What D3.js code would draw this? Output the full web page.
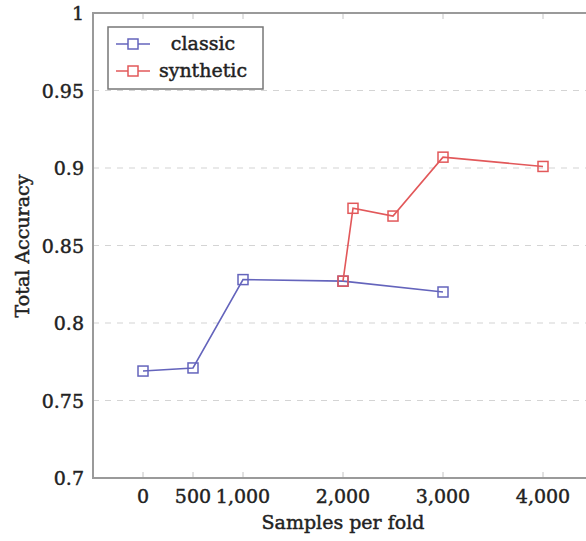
<!DOCTYPE html>
<html>
<head>
<meta charset="utf-8">
<script src="https://cdn.jsdelivr.net/npm/d3@7"></script>
<style>
  body { margin: 0; background: #fff; }
  text { font-family: "DejaVu Serif", "Liberation Serif", serif; fill: #222; stroke: #222; stroke-width: 0.45px; }
</style>
</head>
<body>
<div id="chart"></div>
<script>
let w = 586;
let h = 541;

// data
let classicX = [0, 500, 1000, 2000, 3000];
let classicY = [0.769, 0.771, 0.828, 0.827, 0.820];
let synthX   = [2000, 2100, 2500, 3000, 4000];
let synthY   = [0.827, 0.874, 0.869, 0.907, 0.901];
let xTicks   = [0, 500, 1000, 2000, 3000, 4000];
let yTicks   = [0.7, 0.75, 0.8, 0.85, 0.9, 0.95, 1];
let seriesNames = ['classic', 'synthetic'];

let colors = ['#6464bc', '#e2585a'];

let svg = d3.select('#chart').append('svg').attr('width', w).attr('height', h)

let x = d3.scaleLinear().domain([-500, 4500]).range([93, 593]);
let y = d3.scaleLinear().domain([0.7, 1]).range([478, 13]);

// grid
svg.append('g').selectAll('line').data(yTicks.slice(1, -1)).enter().append('line')
    .attr('x1', x(-500)).attr('x2', x(4500))
    .attr('y1', d => y(d)).attr('y2', d => y(d))
    .attr('stroke', '#d4d4d4').attr('stroke-width', 1.2).attr('stroke-dasharray', '6,6')

// tick marks (inside, top and bottom)
let tk = svg.append('g').attr('stroke', '#c4c4c4').attr('stroke-width', 1)
xTicks.forEach(t => {
    tk.append('line').attr('x1', x(t)).attr('x2', x(t)).attr('y1', y(1)).attr('y2', y(1) + 6)
    tk.append('line').attr('x1', x(t)).attr('x2', x(t)).attr('y1', y(0.7)).attr('y2', y(0.7) - 6)
})

// frame
svg.append('rect').attr('x', x(-500)).attr('y', y(1))
    .attr('width', x(4500) - x(-500)).attr('height', y(0.7) - y(1))
    .attr('fill', 'none').attr('stroke', '#9a9a9a').attr('stroke-width', 2)

// tick labels
let fmt = d3.format(',')
svg.append('g').selectAll('text').data(xTicks).enter().append('text')
    .attr('x', d => x(d)).attr('y', 503)
    .attr('text-anchor', 'middle').attr('font-size', 19)
    .text(d => fmt(d))

svg.append('g').selectAll('text').data(yTicks).enter().append('text')
    .attr('x', 84).attr('y', d => y(d) + 7)
    .attr('text-anchor', 'end').attr('font-size', 19)
    .text(d => String(d))

svg.append('text').attr('x', 343).attr('y', 529).attr('text-anchor', 'middle')
    .attr('font-size', 19).text('Samples per fold')

svg.append('text').attr('transform', 'translate(29,246) rotate(-90)')
    .attr('text-anchor', 'middle').attr('font-size', 19).text('Total Accuracy')

// lines
let line = d3.line().x(d => x(d[0])).y(d => y(d[1]))
let series = [
    d3.zip(classicX, classicY),
    d3.zip(synthX, synthY)
]

series.forEach((s, i) => {
    svg.append('path').attr('d', line(s)).attr('fill', 'none')
        .attr('stroke', colors[i]).attr('stroke-width', 1.6)
    svg.append('g').selectAll('rect').data(s).enter().append('rect')
        .attr('x', d => x(d[0]) - 5).attr('y', d => y(d[1]) - 5)
        .attr('width', 10).attr('height', 10)
        .attr('fill', 'none').attr('stroke', colors[i]).attr('stroke-width', 1.5)
})

// legend
let lg = svg.append('g')
lg.append('rect').attr('x', 108).attr('y', 27).attr('width', 155).attr('height', 62)
    .attr('fill', '#fff').attr('stroke', '#777').attr('stroke-width', 1.5)

seriesNames.forEach((name, i) => {
    let ly = 44 + i * 27
    lg.append('line').attr('x1', 116).attr('x2', 150).attr('y1', ly).attr('y2', ly)
        .attr('stroke', colors[i]).attr('stroke-width', 1.6)
    lg.append('rect').attr('x', 128).attr('y', ly - 5).attr('width', 10).attr('height', 10)
        .attr('fill', '#fff').attr('stroke', colors[i]).attr('stroke-width', 1.5)
    lg.append('text').attr('x', 203).attr('y', ly + 6)
        .attr('text-anchor', 'middle').attr('font-size', 19).text(name)
})
</script>
</body>
</html>
